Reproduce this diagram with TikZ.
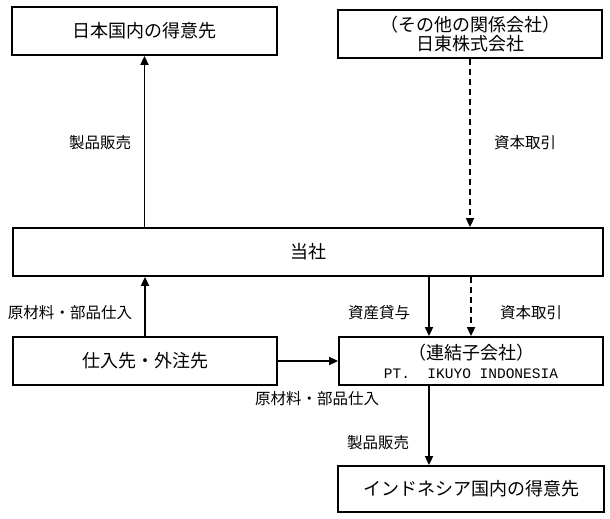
\documentclass[tikz,border=0pt]{standalone}
\usepackage{fontspec}
\setmainfont{Noto Sans CJK JP}
\newfontfamily\monof{Liberation Mono}
\usetikzlibrary{arrows.meta,calc}
\begin{document}
\begin{tikzpicture}[x=1pt,y=-1pt,
  box/.style={draw,line width=1.8pt,minimum width=#1,minimum height=48pt,inner sep=0pt,font=\fontsize{18}{19}\selectfont,align=center},
  lab/.style={font=\fontsize{15.5}{17}\selectfont,inner sep=0pt},
  arr/.style={line width=1.7pt,-{Triangle[width=8pt,length=9pt]}},
  darr/.style={arr,dash pattern=on 6pt off 4pt}]
\useasboundingbox (0,0) rectangle (610,519);
\node[box=265pt] (jp) at (144.5,31) {日本国内の得意先};
\node[box=264pt] (nitto) at (470,34) {（その他の関係会社）\\日東株式会社};
\node[box=590pt] (tosha) at (308,252) {当社};
\node[box=264pt] (supp) at (145,361) {仕入先・外注先};
\node[box=264pt] (pt) at (471,361) {（連結子会社）\\{\monof\fontsize{14.5}{19}\selectfont PT.~~IKUYO~INDONESIA}};
\node[box=266pt,minimum height=46pt] (indo) at (471,489) {インドネシア国内の得意先};
\coordinate (cx) at (429,0);
\draw[arr] (tosha.north -| jp.south) -- (jp.south);
\draw[darr] (nitto.south) -- (tosha.north -| nitto.south);
\draw[arr] (supp.north) -- (supp.north |- tosha.south);
\draw[arr] (tosha.south -| cx) -- (pt.north -| cx);
\draw[darr] (tosha.south -| pt.north) -- (pt.north);
\draw[arr] (supp.east) -- (pt.west);
\draw[arr] (pt.south -| cx) -- (indo.north -| cx);
\node[lab] (l1) at (100,143) {製品販売};
\node[lab] (l2) at (525,143) {資本取引};
\node[lab] (l3) at (70,313) {原材料・部品仕入};
\node[lab] (l4) at (379,313) {資産貸与};
\node[lab] (l5) at (531,313) {資本取引};
\node[lab] (l6) at (317,399) {原材料・部品仕入};
\node[lab] (l7) at (378,443) {製品販売};
\end{tikzpicture}
\end{document}
